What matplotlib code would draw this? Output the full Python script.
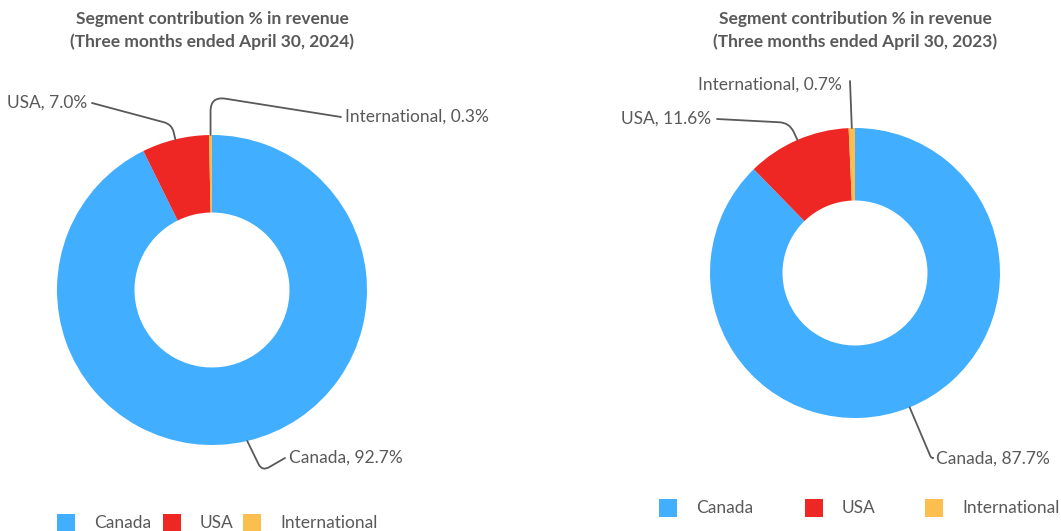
import numpy as np
import matplotlib
matplotlib.use("Agg")
import matplotlib.pyplot as plt
from matplotlib.patches import Rectangle

plt.rcParams['font.family'] = ['Lato', 'DejaVu Sans']

# data
segments = ["Canada", "USA", "International"]
share_2024 = [92.7, 7.0, 0.3]
share_2023 = [87.7, 11.6, 0.7]
years = ["2024", "2023"]
seg_colors = ["#41AEFF", "#EE2724", "#FBBF4F"]

W, H = 1061, 531
TXT = "#595959"
FS = 12.5


def py(y):
    # Pixel-y (von oben) -> Datenkoordinate (von unten)
    return H - y


fig = plt.figure(figsize=(W / 100, H / 100), dpi=100)
ax = fig.add_axes([0, 0, 1, 1])

# Layout pro Diagramm: Mittelpunkt, Radius, Legende, Beschriftungen
charts = [
    dict(vals=share_2024, year=years[0], cx=212, cy=290, r=155,
         legend_y=523, legend_sq=[57, 163, 243], legend_tx=[94, 200, 280],
         # (Textpos, ha, Leader-Start, angleA, angleB, rad)
         labels=[((289, 458), "left", (285, 458), -150, -64, 8),
                 ((87, 103), "right", (92, 103), -15, 103, 8),
                 ((345, 117), "left", (341, 117), 171, 90, 15)]),
    dict(vals=share_2023, year=years[1], cx=855, cy=273, r=145,
         legend_y=508, legend_sq=[659, 805, 925], legend_tx=[696, 842, 962],
         labels=[((936, 459), "left", (933, 458), 180, -67, 2),
                 ((711, 119), "right", (717, 119), -3, 115, 10),
                 ((842, 85), "right", (850, 81), -89, 90, 0)]),
]

for ch in charts:
    wedges, _ = ax.pie(ch["vals"], colors=seg_colors, startangle=90,
                       counterclock=False, radius=ch["r"],
                       center=(ch["cx"], py(ch["cy"])),
                       wedgeprops=dict(width=ch["r"] / 2, linewidth=0))

    ax.text(ch["cx"], py(19), "Segment contribution % in revenue",
            ha="center", va="center", fontsize=FS, fontweight="bold", color=TXT)
    ax.text(ch["cx"], py(42), f"(Three months ended April 30, {ch['year']})",
            ha="center", va="center", fontsize=FS, fontweight="bold", color=TXT)

    for w, seg, val, lab in zip(wedges, segments, ch["vals"], ch["labels"]):
        (tx, ty), ha, (lx, ly), angA, angB, rad = lab
        mid = np.deg2rad((w.theta1 + w.theta2) / 2)
        anchor = (ch["cx"] + ch["r"] * np.cos(mid),
                  py(ch["cy"]) + ch["r"] * np.sin(mid))
        ax.text(tx, py(ty), f"{seg}, {val:.1f}%", ha=ha, va="center",
                fontsize=FS, color=TXT)
        if rad == 0:
            cs = "arc3,rad=0"
        else:
            cs = f"angle,angleA={angA},angleB={angB},rad={rad}"
        ax.annotate("", xy=anchor, xytext=(lx, py(ly)),
                    arrowprops=dict(arrowstyle="-", color=TXT, lw=1.3,
                                    shrinkA=0, shrinkB=0, connectionstyle=cs))

    # Legende
    for seg, col, sx, tx in zip(segments, seg_colors, ch["legend_sq"], ch["legend_tx"]):
        ax.add_patch(Rectangle((sx, py(ch["legend_y"]) - 9), 18, 18,
                               facecolor=col, edgecolor="none"))
        ax.text(tx, py(ch["legend_y"]), seg, ha="left", va="center",
                fontsize=FS, color=TXT)

ax.set_xlim(0, W)
ax.set_ylim(0, H)
ax.set_aspect("auto")
ax.axis("off")

fig.savefig("out.png", dpi=100)
